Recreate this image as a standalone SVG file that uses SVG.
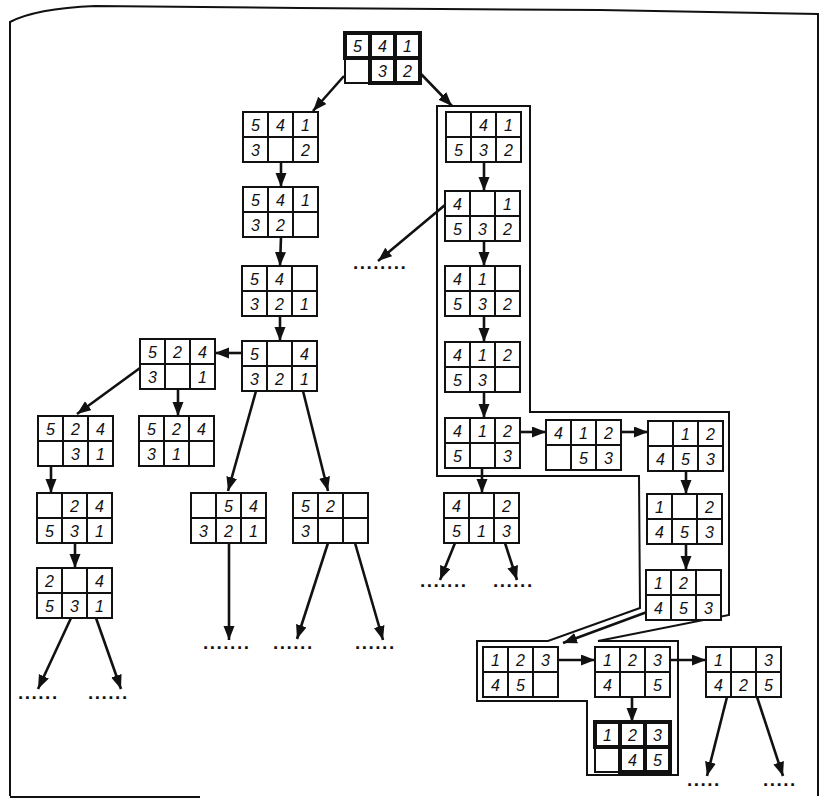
<svg xmlns="http://www.w3.org/2000/svg" xmlns:xlink="http://www.w3.org/1999/xlink" width="824" height="801" viewBox="0 0 824 801">
<style>
.bg{fill:#fff}
.g{fill:#fff;stroke:#111;stroke-width:2}
.gl{stroke:#111;stroke-width:2}
.tk{fill:none;stroke:#111;stroke-width:4}
.n{font-family:"Liberation Sans",Arial,sans-serif;font-style:italic;font-size:16px;text-anchor:middle;fill:#111}
.d{font-family:"Liberation Sans",Arial,sans-serif;font-weight:bold;font-size:19px;letter-spacing:1.5px;fill:#111}
.c{stroke:#111;stroke-width:2.6;fill:none;marker-end:url(#ah)}
.o{fill:none;stroke:#111;stroke-width:2}
.fr{fill:none;stroke:#111;stroke-width:2}
</style>
<defs>
<marker id="ah" markerUnits="userSpaceOnUse" markerWidth="16" markerHeight="12" refX="14" refY="5.5" orient="auto">
<path d="M0,0 L14,5.5 L0,11 Z" fill="#111"/>
</marker>
<g id="grid">
<rect class="g" x="0" y="0" width="75" height="50"/>
<line class="gl" x1="25" y1="0" x2="25" y2="50"/>
<line class="gl" x1="50" y1="0" x2="50" y2="50"/>
<line class="gl" x1="0" y1="25" x2="75" y2="25"/>
</g>
</defs>
<rect class="bg" x="0" y="0" width="824" height="801"/>
<g id="frame">
<path class="fr" d="M10,796 L10,22 C25,14 50,8 95,6 L300,8 L600,10 L818,14 L818,796"/>
<path class="fr" d="M10,797 L200,797"/>
</g>
<g id="path-outline">
<path class="o" d="M437,476 L437,106 L530,106 L530,412 L729,412 L729,615 L598,641 L678,641 L678,775 L587,775 L587,701 L477,701 L477,641 L548,641 L640,608 L639,476 Z"/>
</g>
<g id="connectors">
<line class="c" x1="344" y1="76" x2="313" y2="111"/>
<line class="c" x1="421" y1="74" x2="452" y2="106"/>
<line class="c" x1="281" y1="162" x2="281" y2="187"/>
<line class="c" x1="281" y1="237" x2="280" y2="266"/>
<line class="c" x1="280" y1="316" x2="280" y2="341"/>
<line class="c" x1="242" y1="353" x2="215" y2="353"/>
<line class="c" x1="178" y1="389" x2="178" y2="416"/>
<line class="c" x1="140" y1="368" x2="77" y2="414"/>
<line class="c" x1="51" y1="466" x2="51" y2="493"/>
<line class="c" x1="75" y1="543" x2="75" y2="568"/>
<line class="c" x1="71" y1="618" x2="38" y2="689"/>
<line class="c" x1="96" y1="618" x2="121" y2="689"/>
<line class="c" x1="256" y1="391" x2="228" y2="491"/>
<line class="c" x1="303" y1="391" x2="328" y2="491"/>
<line class="c" x1="229" y1="543" x2="229" y2="640"/>
<line class="c" x1="328" y1="543" x2="297" y2="639"/>
<line class="c" x1="355" y1="543" x2="383" y2="640"/>
<line class="c" x1="484" y1="162" x2="484" y2="191"/>
<line class="c" x1="445" y1="205" x2="378" y2="261"/>
<line class="c" x1="484" y1="241" x2="484" y2="266"/>
<line class="c" x1="484" y1="316" x2="484" y2="342"/>
<line class="c" x1="484" y1="392" x2="484" y2="418"/>
<line class="c" x1="482" y1="468" x2="482" y2="493"/>
<line class="c" x1="520" y1="432" x2="546" y2="432"/>
<line class="c" x1="621" y1="432" x2="648" y2="432"/>
<line class="c" x1="686" y1="471" x2="686" y2="494"/>
<line class="c" x1="686" y1="544" x2="686" y2="570"/>
<line class="c" x1="455" y1="543" x2="440" y2="580"/>
<line class="c" x1="505" y1="543" x2="517" y2="580"/>
<line class="c" x1="647" y1="612" x2="563" y2="643"/>
<line class="c" x1="558" y1="660" x2="595" y2="660"/>
<line class="c" x1="670" y1="660" x2="706" y2="660"/>
<line class="c" x1="632" y1="697" x2="632" y2="722"/>
<line class="c" x1="727" y1="697" x2="707" y2="776"/>
<line class="c" x1="757" y1="697" x2="783" y2="776"/>
</g>
<g id="dots">
<text class="d" x="18" y="699">......</text>
<text class="d" x="88" y="699">......</text>
<text class="d" x="203" y="649">.......</text>
<text class="d" x="273" y="649">......</text>
<text class="d" x="355" y="649">......</text>
<text class="d" x="353" y="269">........</text>
<text class="d" x="420" y="587">.......</text>
<text class="d" x="493" y="587">......</text>
<text class="d" x="687" y="786">.....</text>
<text class="d" x="763" y="786">.....</text>
</g>
<g id="n-T" transform="translate(345,33)">
<use xlink:href="#grid"/>
<rect class="tk" x="0" y="0" width="75" height="25"/>
<rect class="tk" x="25" y="0" width="25" height="50"/>
<rect class="tk" x="50" y="0" width="25" height="50"/>
<text class="n" x="12.5" y="18.5">5</text><text class="n" x="37.5" y="18.5">4</text><text class="n" x="62.5" y="18.5">1</text>
<text class="n" x="37.5" y="43.5">3</text><text class="n" x="62.5" y="43.5">2</text>
</g>
<g id="n-L1" transform="translate(243,112)"><use xlink:href="#grid"/>
<text class="n" x="12.5" y="18.5">5</text><text class="n" x="37.5" y="18.5">4</text><text class="n" x="62.5" y="18.5">1</text>
<text class="n" x="12.5" y="43.5">3</text><text class="n" x="62.5" y="43.5">2</text></g>
<g id="n-L2" transform="translate(243,187)"><use xlink:href="#grid"/>
<text class="n" x="12.5" y="18.5">5</text><text class="n" x="37.5" y="18.5">4</text><text class="n" x="62.5" y="18.5">1</text>
<text class="n" x="12.5" y="43.5">3</text><text class="n" x="37.5" y="43.5">2</text></g>
<g id="n-L3" transform="translate(242,266)"><use xlink:href="#grid"/>
<text class="n" x="12.5" y="18.5">5</text><text class="n" x="37.5" y="18.5">4</text>
<text class="n" x="12.5" y="43.5">3</text><text class="n" x="37.5" y="43.5">2</text><text class="n" x="62.5" y="43.5">1</text></g>
<g id="n-L4" transform="translate(242,341)"><use xlink:href="#grid"/>
<text class="n" x="12.5" y="18.5">5</text><text class="n" x="62.5" y="18.5">4</text>
<text class="n" x="12.5" y="43.5">3</text><text class="n" x="37.5" y="43.5">2</text><text class="n" x="62.5" y="43.5">1</text></g>
<g id="n-L5" transform="translate(140,339)"><use xlink:href="#grid"/>
<text class="n" x="12.5" y="18.5">5</text><text class="n" x="37.5" y="18.5">2</text><text class="n" x="62.5" y="18.5">4</text>
<text class="n" x="12.5" y="43.5">3</text><text class="n" x="62.5" y="43.5">1</text></g>
<g id="n-L6" transform="translate(139,416)"><use xlink:href="#grid"/>
<text class="n" x="12.5" y="18.5">5</text><text class="n" x="37.5" y="18.5">2</text><text class="n" x="62.5" y="18.5">4</text>
<text class="n" x="12.5" y="43.5">3</text><text class="n" x="37.5" y="43.5">1</text></g>
<g id="n-L7" transform="translate(38,416)"><use xlink:href="#grid"/>
<text class="n" x="12.5" y="18.5">5</text><text class="n" x="37.5" y="18.5">2</text><text class="n" x="62.5" y="18.5">4</text>
<text class="n" x="37.5" y="43.5">3</text><text class="n" x="62.5" y="43.5">1</text></g>
<g id="n-L8" transform="translate(37,493)"><use xlink:href="#grid"/>
<text class="n" x="37.5" y="18.5">2</text><text class="n" x="62.5" y="18.5">4</text>
<text class="n" x="12.5" y="43.5">5</text><text class="n" x="37.5" y="43.5">3</text><text class="n" x="62.5" y="43.5">1</text></g>
<g id="n-L9" transform="translate(37,568)"><use xlink:href="#grid"/>
<text class="n" x="12.5" y="18.5">2</text><text class="n" x="62.5" y="18.5">4</text>
<text class="n" x="12.5" y="43.5">5</text><text class="n" x="37.5" y="43.5">3</text><text class="n" x="62.5" y="43.5">1</text></g>
<g id="n-L10" transform="translate(191,493)"><use xlink:href="#grid"/>
<text class="n" x="37.5" y="18.5">5</text><text class="n" x="62.5" y="18.5">4</text>
<text class="n" x="12.5" y="43.5">3</text><text class="n" x="37.5" y="43.5">2</text><text class="n" x="62.5" y="43.5">1</text></g>
<g id="n-L11" transform="translate(293,493)"><use xlink:href="#grid"/>
<text class="n" x="12.5" y="18.5">5</text><text class="n" x="37.5" y="18.5">2</text>
<text class="n" x="12.5" y="43.5">3</text></g>
<g id="n-R1" transform="translate(446,112)"><use xlink:href="#grid"/>
<text class="n" x="37.5" y="18.5">4</text><text class="n" x="62.5" y="18.5">1</text>
<text class="n" x="12.5" y="43.5">5</text><text class="n" x="37.5" y="43.5">3</text><text class="n" x="62.5" y="43.5">2</text></g>
<g id="n-R2" transform="translate(445,191)"><use xlink:href="#grid"/>
<text class="n" x="12.5" y="18.5">4</text><text class="n" x="62.5" y="18.5">1</text>
<text class="n" x="12.5" y="43.5">5</text><text class="n" x="37.5" y="43.5">3</text><text class="n" x="62.5" y="43.5">2</text></g>
<g id="n-R3" transform="translate(445,266)"><use xlink:href="#grid"/>
<text class="n" x="12.5" y="18.5">4</text><text class="n" x="37.5" y="18.5">1</text>
<text class="n" x="12.5" y="43.5">5</text><text class="n" x="37.5" y="43.5">3</text><text class="n" x="62.5" y="43.5">2</text></g>
<g id="n-R4" transform="translate(445,342)"><use xlink:href="#grid"/>
<text class="n" x="12.5" y="18.5">4</text><text class="n" x="37.5" y="18.5">1</text><text class="n" x="62.5" y="18.5">2</text>
<text class="n" x="12.5" y="43.5">5</text><text class="n" x="37.5" y="43.5">3</text></g>
<g id="n-R5" transform="translate(445,418)"><use xlink:href="#grid"/>
<text class="n" x="12.5" y="18.5">4</text><text class="n" x="37.5" y="18.5">1</text><text class="n" x="62.5" y="18.5">2</text>
<text class="n" x="12.5" y="43.5">5</text><text class="n" x="62.5" y="43.5">3</text></g>
<g id="n-R6" transform="translate(444,493)"><use xlink:href="#grid"/>
<text class="n" x="12.5" y="18.5">4</text><text class="n" x="62.5" y="18.5">2</text>
<text class="n" x="12.5" y="43.5">5</text><text class="n" x="37.5" y="43.5">1</text><text class="n" x="62.5" y="43.5">3</text></g>
<g id="n-S1" transform="translate(546,420)"><use xlink:href="#grid"/>
<text class="n" x="12.5" y="18.5">4</text><text class="n" x="37.5" y="18.5">1</text><text class="n" x="62.5" y="18.5">2</text>
<text class="n" x="37.5" y="43.5">5</text><text class="n" x="62.5" y="43.5">3</text></g>
<g id="n-S2" transform="translate(648,421)"><use xlink:href="#grid"/>
<text class="n" x="37.5" y="18.5">1</text><text class="n" x="62.5" y="18.5">2</text>
<text class="n" x="12.5" y="43.5">4</text><text class="n" x="37.5" y="43.5">5</text><text class="n" x="62.5" y="43.5">3</text></g>
<g id="n-S3" transform="translate(647,494)"><use xlink:href="#grid"/>
<text class="n" x="12.5" y="18.5">1</text><text class="n" x="62.5" y="18.5">2</text>
<text class="n" x="12.5" y="43.5">4</text><text class="n" x="37.5" y="43.5">5</text><text class="n" x="62.5" y="43.5">3</text></g>
<g id="n-S4" transform="translate(646,570)"><use xlink:href="#grid"/>
<text class="n" x="12.5" y="18.5">1</text><text class="n" x="37.5" y="18.5">2</text>
<text class="n" x="12.5" y="43.5">4</text><text class="n" x="37.5" y="43.5">5</text><text class="n" x="62.5" y="43.5">3</text></g>
<g id="n-B1" transform="translate(483,647)"><use xlink:href="#grid"/>
<text class="n" x="12.5" y="18.5">1</text><text class="n" x="37.5" y="18.5">2</text><text class="n" x="62.5" y="18.5">3</text>
<text class="n" x="12.5" y="43.5">4</text><text class="n" x="37.5" y="43.5">5</text></g>
<g id="n-B2" transform="translate(595,647)"><use xlink:href="#grid"/>
<text class="n" x="12.5" y="18.5">1</text><text class="n" x="37.5" y="18.5">2</text><text class="n" x="62.5" y="18.5">3</text>
<text class="n" x="12.5" y="43.5">4</text><text class="n" x="62.5" y="43.5">5</text></g>
<g id="n-B3" transform="translate(706,647)"><use xlink:href="#grid"/>
<text class="n" x="12.5" y="18.5">1</text><text class="n" x="62.5" y="18.5">3</text>
<text class="n" x="12.5" y="43.5">4</text><text class="n" x="37.5" y="43.5">2</text><text class="n" x="62.5" y="43.5">5</text></g>
<g id="n-F" transform="translate(595,722)">
<use xlink:href="#grid"/>
<rect class="tk" x="0" y="0" width="75" height="25"/>
<rect class="tk" x="25" y="0" width="25" height="50"/>
<rect class="tk" x="50" y="0" width="25" height="50"/>
<text class="n" x="12.5" y="18.5">1</text><text class="n" x="37.5" y="18.5">2</text><text class="n" x="62.5" y="18.5">3</text>
<text class="n" x="37.5" y="43.5">4</text><text class="n" x="62.5" y="43.5">5</text>
</g>
</svg>
